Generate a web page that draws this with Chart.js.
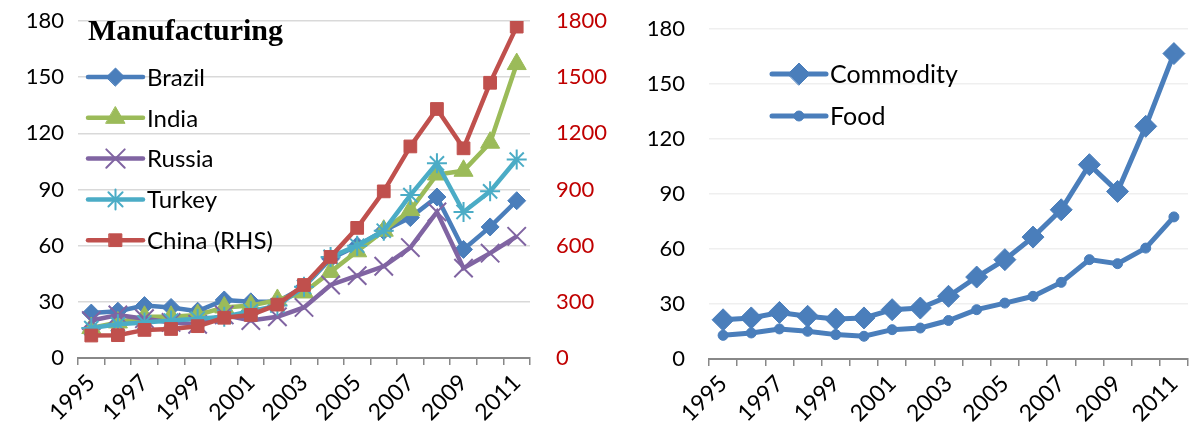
<!DOCTYPE html>
<html>
<head>
<meta charset="utf-8">
<script src="https://cdn.jsdelivr.net/npm/chart.js@4.4.0/dist/chart.umd.min.js"></script>
<style>
  html, body { margin: 0; padding: 0; background: #fff; overflow: hidden; }
  #wrap { position: relative; width: 1197px; height: 434px; }
  #manuf { position: absolute; left: 0; top: 0; }
  #comm { position: absolute; left: 640px; top: 0; }
</style>
</head>
<body>
<div id="wrap">
  <canvas id="manuf" width="615" height="434"></canvas>
  <canvas id="comm" width="560" height="434"></canvas>
</div>
<script>
const YEARS = ['1995', '1996', '1997', '1998', '1999', '2000', '2001', '2002', '2003',
               '2004', '2005', '2006', '2007', '2008', '2009', '2010', '2011'];

// left panel, index (LHS)
const BRAZIL = [24, 25, 28, 27, 25, 31, 30, 30, 38, 53, 60, 68, 75, 86, 58, 70, 84];
const INDIA  = [16, 19, 22, 22, 23, 27, 28, 31, 35, 46, 57, 68, 79, 98, 100, 115, 157];
const RUSSIA = [20, 23, 21, 19, 18, 23, 20, 22, 27, 39, 44, 49, 59, 78, 48, 56, 65];
const TURKEY = [16, 18, 19, 20, 21, 22, 25, 28, 38, 54, 60, 68, 87, 104, 78, 89, 106];
// China on the right hand scale
const CHINA  = [120, 122, 150, 155, 170, 215, 230, 285, 390, 540, 695, 890, 1130, 1330, 1120, 1470, 1770];

// right panel
const COMMODITY = [21.4, 22.4, 25.4, 23.3, 21.8, 22.4, 26.9, 27.8, 34.2, 44.7, 54.2, 66.5, 81.4, 106, 91.4, 126.9, 166.6];
const FOOD      = [12.9, 14.2, 16.4, 15.1, 13.3, 12.4, 16, 16.9, 21, 26.9, 30.5, 34.2, 41.8, 54.2, 52, 60.5, 77.5];

const LHS_TICKS = [0, 30, 60, 90, 120, 150, 180];
const RHS_TICKS = [0, 300, 600, 900, 1200, 1500, 1800];

const FONT = 'Lato';
const tickFont = { family: FONT, size: 22 };

function series(label, data, color, style, radius, extra) {
    return Object.assign({
        label: label,
        data: data,
        borderColor: color,
        backgroundColor: color,
        pointBackgroundColor: color,
        pointBorderColor: color,
        borderWidth: 4.5,
        pointStyle: style,
        pointRadius: radius,
        pointBorderWidth: 1,
        tension: 0,
        yAxisID: 'y'
    }, extra || {});
}

// legend drawn as line + marker, like the spreadsheet one
function lineLegend(x0, y0, dy, len, fontSize) {
    return {
        id: 'lineLegend',
        afterDraw(chart) {
            const c = chart.ctx;
            const sets = chart.data.datasets;
            c.save();
            sets.forEach((ds, i) => {
                const y = y0 + i * dy;
                c.strokeStyle = ds.borderColor;
                c.fillStyle = ds.borderColor;
                c.lineWidth = ds.borderWidth;
                c.lineCap = 'round';
                c.beginPath();
                c.moveTo(x0, y);
                c.lineTo(x0 + len, y);
                c.stroke();
                c.lineWidth = ds.pointBorderWidth;
                Chart.helpers.drawPoint(c, {
                    pointStyle: ds.pointStyle,
                    rotation: 0,
                    radius: ds.pointRadius,
                    borderWidth: ds.pointBorderWidth
                }, x0 + len / 2, y);
                c.fillStyle = '#000';
                c.font = fontSize + 'px ' + FONT;
                c.textBaseline = 'middle';
                c.textAlign = 'left';
                c.fillText(ds.label, x0 + len + 4, y + 1);
            });
            c.restore();
        }
    };
}

const titlePlugin = {
    id: 'panelTitle',
    afterDraw(chart) {
        const c = chart.ctx;
        c.save();
        c.fillStyle = '#000';
        c.font = 'bold 30px "Liberation Serif"';
        c.textBaseline = 'alphabetic';
        c.fillText('Manufacturing', 88, 40);
        c.restore();
    }
};

function noPad(s) {
    s.paddingTop = 0; s.paddingBottom = 0; s.paddingLeft = 0; s.paddingRight = 0;
}

function xAxis(height) {
    return {
        type: 'category',
        offset: true,
        grid: { offset: true, drawOnChartArea: false, drawTicks: true, tickLength: 7, color: '#888', lineWidth: 1.5 },
        border: { display: true, color: '#888', width: 2 },
        ticks: {
            autoSkip: false, maxRotation: 45, minRotation: 45, padding: 4,
            font: { family: FONT, size: 23 }, color: '#000',
            callback: (v, i) => (i % 2 === 0 ? YEARS[i] : '')
        },
        afterFit: (s) => { s.height = height; noPad(s); }
    };
}

function yAxis(pos, values, width, pad, color, gridColor) {
    return {
        position: pos,
        min: values[0],
        max: values[values.length - 1],
        afterBuildTicks: (s) => { s.ticks = values.map(v => ({ value: v })); },
        grid: gridColor ? { color: gridColor, lineWidth: 1.5, drawTicks: false } : { drawOnChartArea: false, drawTicks: false },
        border: { display: false },
        ticks: { padding: pad, font: tickFont, color: color, callback: (v) => String(v) },
        afterFit: (s) => { s.width = width; noPad(s); }
    };
}

new Chart(document.getElementById('manuf'), {
    type: 'line',
    data: {
        labels: YEARS,
        datasets: [
            series('Brazil', BRAZIL, '#4a7ebb', 'rectRot', 9, { order: 5 }),
            series('India', INDIA, '#9bbb59', 'triangle', 11, { order: 4 }),
            series('Russia', RUSSIA, '#8064a2', 'crossRot', 13, { order: 3, pointBorderWidth: 2 }),
            series('Turkey', TURKEY, '#4bacc6', 'star', 10, { order: 2, pointBorderWidth: 2 }),
            series('China (RHS)', CHINA, '#c0504d', 'rect', 9, { order: 1, yAxisID: 'y2' })
        ]
    },
    options: {
        responsive: false,
        animation: false,
        layout: { padding: { top: 21, left: 0, right: 0, bottom: 0 } },
        plugins: { legend: { display: false }, tooltip: { enabled: false }, title: { display: false } },
        scales: {
            x: xAxis(76),
            y: yAxis('left', LHS_TICKS, 78, 14, '#000', '#d9d9d9'),
            y2: yAxis('right', RHS_TICKS, 85, 26, '#c00000', null)
        }
    },
    plugins: [titlePlugin, lineLegend(88, 77, 40.8, 55, 24)]
});

new Chart(document.getElementById('comm'), {
    type: 'line',
    data: {
        labels: YEARS,
        datasets: [
            series('Commodity', COMMODITY, '#4a7ebb', 'rectRot', 11, { borderWidth: 5, order: 2 }),
            series('Food', FOOD, '#4a7ebb', 'circle', 5, { borderWidth: 5, order: 1 })
        ]
    },
    options: {
        responsive: false,
        animation: false,
        layout: { padding: { top: 29, left: 0, right: 0, bottom: 0 } },
        plugins: { legend: { display: false }, tooltip: { enabled: false }, title: { display: false } },
        scales: {
            x: xAxis(75),
            y: yAxis('left', LHS_TICKS, 69, 24, '#000', '#efefef')
        }
    },
    plugins: [lineLegend(132, 74, 42, 54, 25)]
});
</script>
</body>
</html>
